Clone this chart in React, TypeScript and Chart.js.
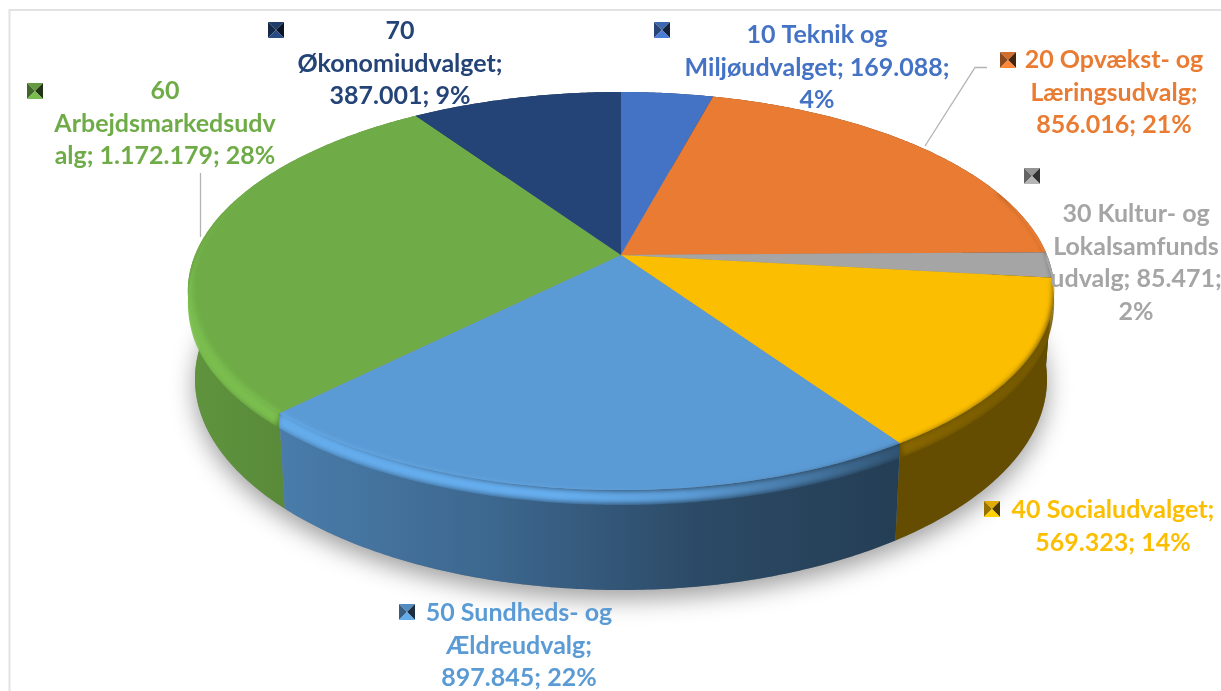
import React, { useEffect, useRef } from "react";
import Chart from "chart.js/auto";

// ---- data ----
const categories = [
  "10 Teknik og Miljøudvalget",
  "20 Opvækst- og Læringsudvalg",
  "30 Kultur- og Lokalsamfundsudvalg",
  "40 Socialudvalget",
  "50 Sundheds- og Ældreudvalg",
  "60 Arbejdsmarkedsudvalg",
  "70 Økonomiudvalget",
];
const values = [169088, 856016, 85471, 569323, 897845, 1172179, 387001];
const colors = ["#4472c4", "#e97b32", "#a5a5a5", "#fbbe00", "#5b9bd5", "#6fac47", "#244377"];
const labelLines = [
  ["10 Teknik og", "Miljøudvalget; 169.088;", "4%"],
  ["20 Opvækst- og", "Læringsudvalg;", "856.016; 21%"],
  ["30 Kultur- og", "Lokalsamfunds", "udvalg; 85.471;", "2%"],
  ["40 Socialudvalget;", "569.323; 14%"],
  ["50 Sundheds- og", "Ældreudvalg;", "897.845; 22%"],
  ["60", "Arbejdsmarkedsudv", "alg; 1.172.179; 28%"],
  ["70", "Økonomiudvalget;", "387.001; 9%"],
];

// ---- layout (not data) ----
const labelCenterX = [817, 1114, 1136, 1113, 519, 165, 400];
const labelFirstY = [34, 59, 213, 509, 612, 90, 30];
const keyCenter = [[662, 30], [1008, 60], [1032, 176], [992, 509], [407, 612], [35, 91], [276, 30]];
const LINE_H = 32.6;
const FONT = "bold 25px Lato";
const K = 0.181;
const TOP_A = 1.6706, TOP_B = 0.7549;
const BOT_A = 1.643, BOT_B = 0.8, BOT_DY = 0.337;

type RGB = [number, number, number];
const hex = (h: string): RGB => [1, 3, 5].map((i) => parseInt(h.slice(i, i + 2), 16)) as RGB;
const mul = (c: RGB, f: number) =>
  `rgb(${c.map((v) => Math.min(255, Math.round(v * f))).join(",")})`;
const clamp01 = (v: number) => Math.max(0, Math.min(1, v));

function pieRenderer(chart: any) {
  const ctx: CanvasRenderingContext2D = chart.ctx;
  const arcs: any[] = chart.getDatasetMeta(0).data;
  const cx = arcs[0].x, cy = arcs[0].y, R = arcs[0].outerRadius;

  const top = (a: number, r = 1): [number, number] => {
    const c = Math.cos(a), s = Math.sin(a), w = 1 - K * s * r;
    return [cx + (TOP_A * R * r * c) / w, cy + (TOP_B * R * r * s) / w];
  };
  const bot = (a: number): [number, number] => {
    const c = Math.cos(a), s = Math.sin(a), w = 1 - K * s;
    return [cx + (BOT_A * R * c) / w, cy + BOT_DY * R + (BOT_B * R * s) / w];
  };
  const samples = (a0: number, a1: number) => {
    const n = Math.max(2, Math.ceil((a1 - a0) / 0.01));
    return Array.from({ length: n + 1 }, (_, i) => a0 + ((a1 - a0) * i) / n);
  };
  const bevelF = (a: number) => clamp01((Math.sin(a) + 0.35) / 0.7);
  const poly = (pts: [number, number][]) => {
    ctx.beginPath();
    pts.forEach((p, i) => (i ? ctx.lineTo(p[0], p[1]) : ctx.moveTo(p[0], p[1])));
    ctx.closePath();
  };
  const xGrad = (stops: [number, string][]) => {
    const g = ctx.createLinearGradient(190, 0, 1053, 0);
    stops.forEach(([x, col]) => g.addColorStop(clamp01((x - 190) / 863), col));
    return g;
  };

  // soft drop shadow below the disc
  ctx.save();
  ctx.shadowColor = "rgba(0,0,0,0.38)";
  ctx.shadowBlur = 24;
  ctx.shadowOffsetY = 9;
  ctx.fillStyle = "#888";
  poly(samples(0, Math.PI * 2).map(bot));
  ctx.fill();
  ctx.restore();

  // side walls, back to front
  const order = arcs
    .map((_, i) => i)
    .sort(
      (i, j) =>
        Math.sin((arcs[i].startAngle + arcs[i].endAngle) / 2) -
        Math.sin((arcs[j].startAngle + arcs[j].endAngle) / 2)
    );
  order.forEach((i) => {
    const base = hex(colors[i]);
    const as = samples(arcs[i].startAngle, arcs[i].endAngle);
    ctx.fillStyle = xGrad([
      [190, mul(base, 0.86)],
      [285, mul(base, 0.8)],
      [500, mul(base, 0.66)],
      [700, mul(base, 0.48)],
      [895, mul(base, 0.4)],
      [1053, mul(base, 0.4)],
    ]);
    poly([...as.map((a) => top(a)), ...as.slice().reverse().map(bot)]);
    ctx.fill();
  });

  // flat top faces
  arcs.forEach((el, i) => {
    const as = samples(el.startAngle, el.endAngle);
    ctx.fillStyle = colors[i];
    poly([[cx, cy], ...as.map((a) => top(a))]);
    ctx.fill();
  });

  // bevel along the front rim
  arcs.forEach((el, i) => {
    const base = hex(colors[i]);
    const as = samples(el.startAngle, el.endAngle).filter((a) => bevelF(a) > 0);
    if (as.length < 2) return;
    const outer = (a: number): [number, number] => {
      const p = top(a, 1.008);
      return [p[0], p[1] + 11 * bevelF(a)];
    };
    const inner = (a: number) => {
      const c = Math.cos(a);
      const side = c < 0 ? 0.018 : 0.008;
      return top(a, 1 - bevelF(a) * (-0.004 + side * c * c));
    };
    const clipTo = (a: number): [number, number] => {
      const p = top(a);
      return [p[0], p[1] + 15 * bevelF(a)];
    };
    ctx.save();
    poly([[cx, cy], top(as[0]), ...as.map(clipTo), top(as[as.length - 1])]);
    ctx.clip();
    ctx.filter = "blur(2.6px)";
    ctx.fillStyle = xGrad([
      [190, mul(base, 1.1)],
      [560, mul(base, 1.12)],
      [680, mul(base, 1.02)],
      [800, mul(base, 0.78)],
      [900, mul(base, 0.54)],
      [1053, mul(base, 0.46)],
    ]);
    poly([...as.map(inner), ...as.slice().reverse().map(outer)]);
    ctx.fill();
    ctx.restore();
  });
}

function drawKey(ctx: CanvasRenderingContext2D, x: number, y: number, c: RGB) {
  const h = 8;
  const l = x - h, r = x + h, t = y - h, b = y + h;
  const tri = (pts: number[][], col: string) => {
    ctx.fillStyle = col;
    ctx.beginPath();
    pts.forEach((p, i) => (i ? ctx.lineTo(p[0], p[1]) : ctx.moveTo(p[0], p[1])));
    ctx.closePath();
    ctx.fill();
  };
  ctx.save();
  ctx.filter = "blur(0.4px)";
  tri([[l, t], [r, t], [x, y]], mul(c, 0.9));
  tri([[l, t], [l, b], [x, y]], mul(c, 0.6));
  tri([[r, t], [r, b], [x, y]], mul(c, 0.3));
  tri([[l, b], [r, b], [x, y]], mul(c, 1.1));
  ctx.restore();
}

const piePlugin = {
  id: "perspectivePie",
  beforeDraw(chart: any) {
    const ctx: CanvasRenderingContext2D = chart.ctx;
    ctx.save();
    ctx.fillStyle = "#fff";
    ctx.fillRect(0, 0, chart.width, chart.height);
    ctx.strokeStyle = "#e2e2e2";
    ctx.lineWidth = 2;
    ctx.beginPath();
    ctx.moveTo(9.5, chart.height);
    ctx.lineTo(9.5, 10);
    ctx.lineTo(chart.width, 10);
    ctx.stroke();
    ctx.restore();
  },
  beforeDatasetsDraw(chart: any) {
    pieRenderer(chart);
    return false;
  },
  afterDraw(chart: any) {
    const ctx: CanvasRenderingContext2D = chart.ctx;
    ctx.save();
    // leader lines
    ctx.strokeStyle = "#b3b3b3";
    ctx.lineWidth = 1.3;
    ctx.beginPath();
    ctx.moveTo(200.5, 173);
    ctx.lineTo(200.5, 237);
    ctx.moveTo(987, 67.5);
    ctx.lineTo(975, 67.5);
    ctx.lineTo(925, 146);
    ctx.stroke();
    // keys + labels
    ctx.textAlign = "center";
    ctx.textBaseline = "middle";
    ctx.font = FONT;
    labelLines.forEach((lines, i) => {
      drawKey(ctx, keyCenter[i][0], keyCenter[i][1], hex(colors[i]));
      ctx.fillStyle = colors[i];
      lines.forEach((t, j) => ctx.fillText(t, labelCenterX[i], labelFirstY[i] + 1 + j * LINE_H));
    });
    ctx.restore();
  },
};

export default function App() {
  const ref = useRef<HTMLCanvasElement>(null);
  useEffect(() => {
    const chart = new Chart(ref.current!, {
      type: "pie",
      data: {
        labels: categories,
        datasets: [{ data: values, backgroundColor: colors, borderWidth: 0 }],
      },
      options: {
        animation: false,
        responsive: false,
        layout: { padding: { left: 21, right: 0, top: 0, bottom: 181 } },
        plugins: { legend: { display: false }, tooltip: { enabled: false } },
      },
      plugins: [piePlugin],
    } as any);
    return () => chart.destroy();
  }, []);
  return (
    <canvas
      ref={ref}
      width={1221}
      height={691}
      style={{ position: "absolute", left: 0, top: 0, display: "block" }}
    />
  );
}
